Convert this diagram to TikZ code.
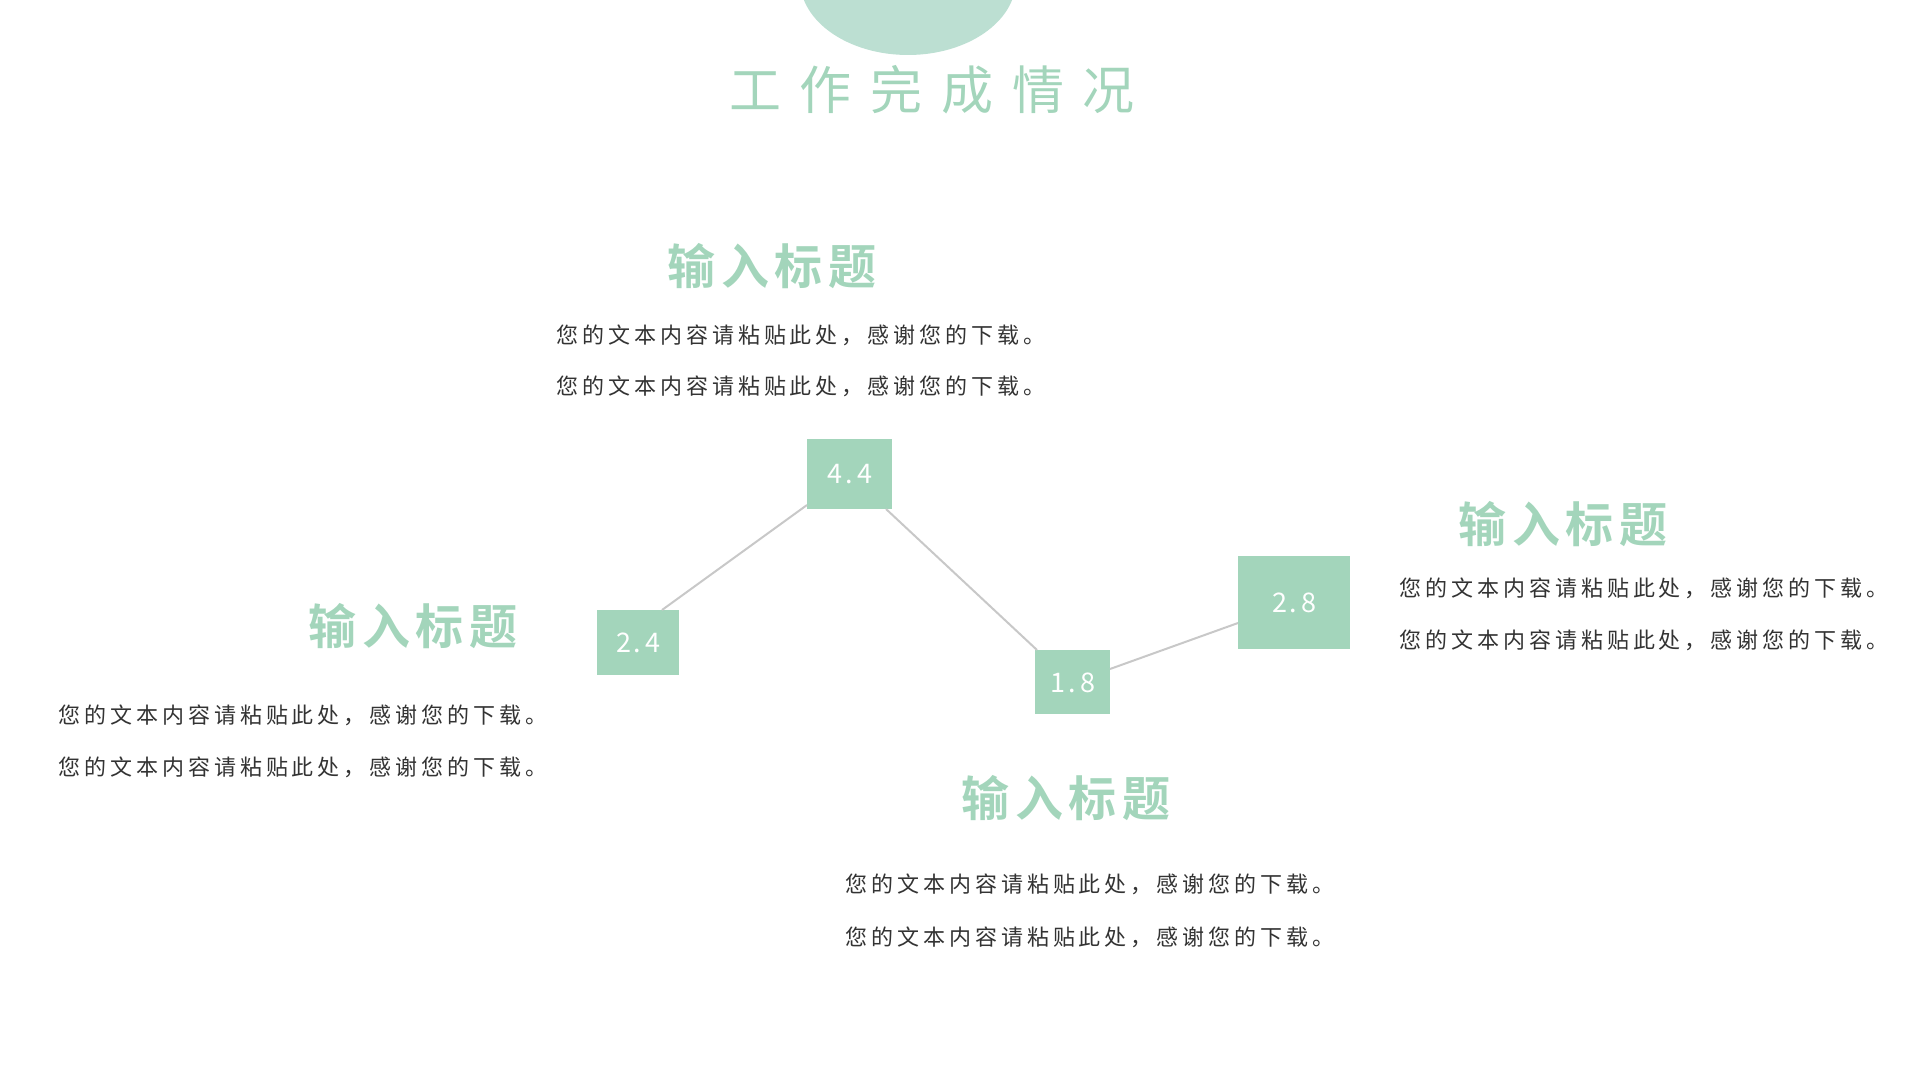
\documentclass[tikz,border=0pt]{standalone}
\usepackage{fontspec}
\newfontfamily\bodyf[LetterSpace=18]{Noto Sans CJK SC}
\newfontfamily\headf[LetterSpace=12]{Noto Sans CJK SC Bold}
\newfontfamily\titlef[LetterSpace=36]{Noto Sans CJK SC}
\newfontfamily\numf[LetterSpace=10]{Noto Sans CJK SC}
\definecolor{mint}{HTML}{A3D5BB}
\definecolor{blob}{HTML}{BCDFD2}
\definecolor{txt}{HTML}{333333}
\definecolor{ln}{HTML}{C8C8C8}
\tikzset{
  head/.style={text=mint,font=\headf\fontsize{24}{27}\selectfont,inner sep=0},
  body/.style={text=txt,font=\bodyf\fontsize{11}{13}\selectfont,inner sep=0},
  valbox/.style={fill=mint,inner sep=0,anchor=north west},
  valtxt/.style={text=white,font=\numf\fontsize{13.5}{16}\selectfont},
  conn/.style={draw=ln,line width=1pt}
}
\begin{document}
\begin{tikzpicture}[x=0.5pt,y=-0.5pt]
\useasboundingbox (0,0) rectangle (1920,1080);
\fill[blob] (908,-20) ellipse (108 and 75);
\node[text=mint,font=\titlef\fontsize{26}{30}\selectfont,inner sep=0] (title) at (932,90) {工作完成情况};
% boxes
\node[valbox,minimum width=41pt,minimum height=32.5pt] (b1) at (597,610) {};
\node at (b1.center) [valtxt] (t1) {2.\,4};
\node[valbox,minimum width=42.5pt,minimum height=35pt] (b2) at (807,439) {};
\node at (b2.center) [valtxt] (t2) {4.\,4};
\node[valbox,minimum width=37.5pt,minimum height=32pt] (b3) at (1035,650) {};
\node at (b3.center) [valtxt] (t3) {1.\,8};
\node[valbox,minimum width=56pt,minimum height=46.5pt] (b4) at (1238,556) {};
\node at (b4.center) [valtxt] (t4) {2.\,8};
\coordinate (c1) at (662,610); \coordinate (c2) at (807,505);
\coordinate (c3) at (886,509); \coordinate (c4) at (1037,650);
\coordinate (c5) at (1110,669); \coordinate (c6) at (1238,623);
\draw[conn] (c1) -- (c2); \draw[conn] (c3) -- (c4); \draw[conn] (c5) -- (c6);
% texts
\node[head] (h1) at (772,266) {输入标题};
\node[body] (p1a) at (801,335) {您的文本内容请粘贴此处，感谢您的下载。};
\node[body] (p1b) at (801,386) {您的文本内容请粘贴此处，感谢您的下载。};
\node[head] (h2) at (413,626) {输入标题};
\node[body] (p2a) at (303,715) {您的文本内容请粘贴此处，感谢您的下载。};
\node[body] (p2b) at (303,767) {您的文本内容请粘贴此处，感谢您的下载。};
\node[head] (h3) at (1563,524) {输入标题};
\node[body] (p3a) at (1644,588) {您的文本内容请粘贴此处，感谢您的下载。};
\node[body] (p3b) at (1644,640) {您的文本内容请粘贴此处，感谢您的下载。};
\node[head] (h4) at (1066,798) {输入标题};
\node[body] (p4a) at (1090,884) {您的文本内容请粘贴此处，感谢您的下载。};
\node[body] (p4b) at (1090,937) {您的文本内容请粘贴此处，感谢您的下载。};
\end{tikzpicture}
\end{document}
